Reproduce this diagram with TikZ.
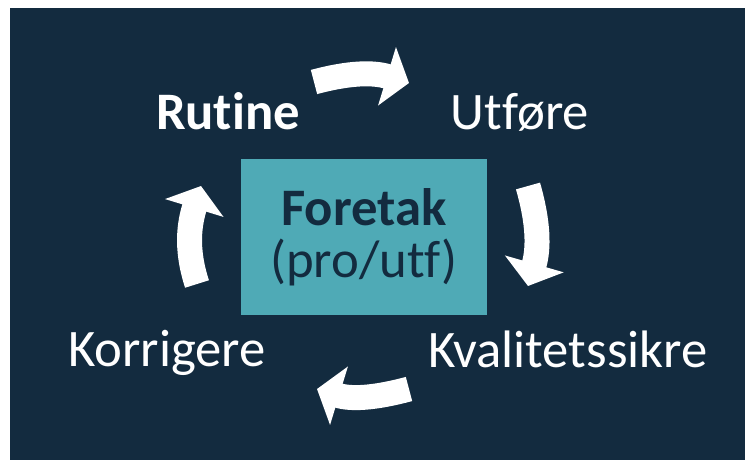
\documentclass[tikz,border=0pt]{standalone}
\usepackage{fontspec}
\setmainfont{Carlito}[Ligatures=NoCommon]
\usetikzlibrary{arrows.meta}
\definecolor{marine}{HTML}{132B3F}
\definecolor{petrol}{HTML}{4FAAB6}

\begin{document}
\begin{tikzpicture}[x=0.02cm,y=-0.02cm,
  steg/.style={text=white,anchor=base,font=\fontsize{30}{36}\selectfont},
  pil/.style={white,line width=0.5cm,-{Triangle[width=1.2cm,length=0.46cm]}}]
\useasboundingbox (0,0) rectangle (745,460);
\fill[marine] (10,8) rectangle (745,460);

\node (boks) at (364,237) [fill=petrol,minimum width=4.92cm,minimum height=3.12cm,
  text=marine,align=center,font=\fontsize{30}{29.5}\selectfont] {\textbf{Foretak}\\(pro/utf)};

\node (rutine) at (228,129) [steg] {\textbf{Rutine}};
\node (utfore) at (520,129) [steg] {Utføre};
\node (kvalitet) at (568,367) [steg] {Kvalitetssikre};
\node (korriger) at (167,366) [steg] {Korrigere};

\coordinate (p1) at (314,82);
\coordinate (p2) at (409,83);
\coordinate (p3) at (528,186);
\coordinate (p4) at (528,286);
\coordinate (p5) at (409,389);
\coordinate (p6) at (317,389);
\coordinate (p7) at (197,284);
\coordinate (p8) at (201,186);

\draw[pil] (p1) to[out=15,in=163] (p2);
\draw[pil] (p3) to[out=-74,in=74] (p4);
\draw[pil] (p5) to[out=195,in=-17] (p6);
\draw[pil] (p7) to[out=108,in=-107] (p8);
\end{tikzpicture}
\end{document}
